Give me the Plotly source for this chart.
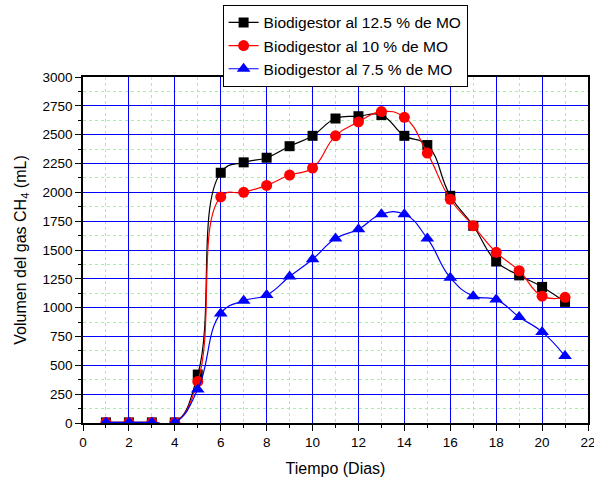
import plotly.graph_objects as go

dias = list(range(1, 22))
mo_125 = [5, 5, 5, 5, 420, 2170, 2260, 2300, 2400, 2490, 2640, 2660, 2670, 2490, 2410, 1970, 1710, 1400, 1280, 1180, 1050]
mo_10 = [5, 5, 5, 5, 360, 1960, 2000, 2060, 2150, 2210, 2490, 2610, 2700, 2650, 2340, 1940, 1710, 1480, 1320, 1100, 1090]
mo_75 = [5, 5, 5, 5, 290, 950, 1060, 1110, 1270, 1420, 1600, 1680, 1810, 1810, 1600, 1260, 1100, 1070, 920, 790, 580]
names = ["Biodigestor al 12.5 % de MO", "Biodigestor al 10 % de MO", "Biodigestor al 7.5 % de MO"]

FONT = "Liberation Sans, Arial, sans-serif"
fig = go.Figure()
specs = [(mo_125, "black", "square", 10), (mo_10, "red", "circle", 11), (mo_75, "blue", "triangle-up", 12)]
for (vals, col, sym, sz), nm in zip(specs, names):
    fig.add_trace(go.Scatter(
        x=dias, y=vals, name=nm, mode="lines+markers",
        line=dict(color=col, width=1.2, shape="spline", smoothing=1.3),
        marker=dict(color=col, symbol=sym, size=sz),
    ))

axis_common = dict(
    showline=True, linecolor="black", linewidth=1.5, mirror=True,
    ticks="outside", ticklen=6, tickcolor="black", tickwidth=1.2,
    showgrid=True, gridcolor="blue", gridwidth=1,
    zeroline=False, automargin=False, ticklabeloverflow="allow",
    tickfont=dict(family=FONT, size=13.5, color="black"),
)
fig.update_xaxes(
    range=[0, 22], dtick=2, tick0=0,
    title=dict(text="Tiempo (Dias)", font=dict(family=FONT, size=16, color="black"), standoff=16),
    minor=dict(dtick=1, tick0=0, ticks="outside", ticklen=3, tickcolor="black",
               showgrid=True, gridcolor="#a8f0a8", griddash="dot", gridwidth=0.8),
    **axis_common,
)
fig.update_yaxes(
    range=[0, 3000], dtick=250, tick0=0,
    title=dict(text="Volumen del gas CH<sub>4</sub> (mL)", font=dict(family=FONT, size=16, color="black"), standoff=12),
    minor=dict(dtick=125, tick0=0, ticks="outside", ticklen=3, tickcolor="black",
               showgrid=True, gridcolor="#a8f0a8", griddash="dot", gridwidth=0.8),
    **axis_common,
)
fig.update_layout(
    width=594, height=477,
    margin=dict(l=83, r=6, t=76, b=54),
    paper_bgcolor="white", plot_bgcolor="white",
    font=dict(family=FONT, color="black"),
    legend=dict(
        x=0.519, xanchor="center", y=1.205, yanchor="top",
        bordercolor="black", borderwidth=1, bgcolor="white",
        font=dict(family=FONT, size=15.5, color="black"),
        itemwidth=30, tracegroupgap=0,
    ),
)
fig.write_html("out.html")
